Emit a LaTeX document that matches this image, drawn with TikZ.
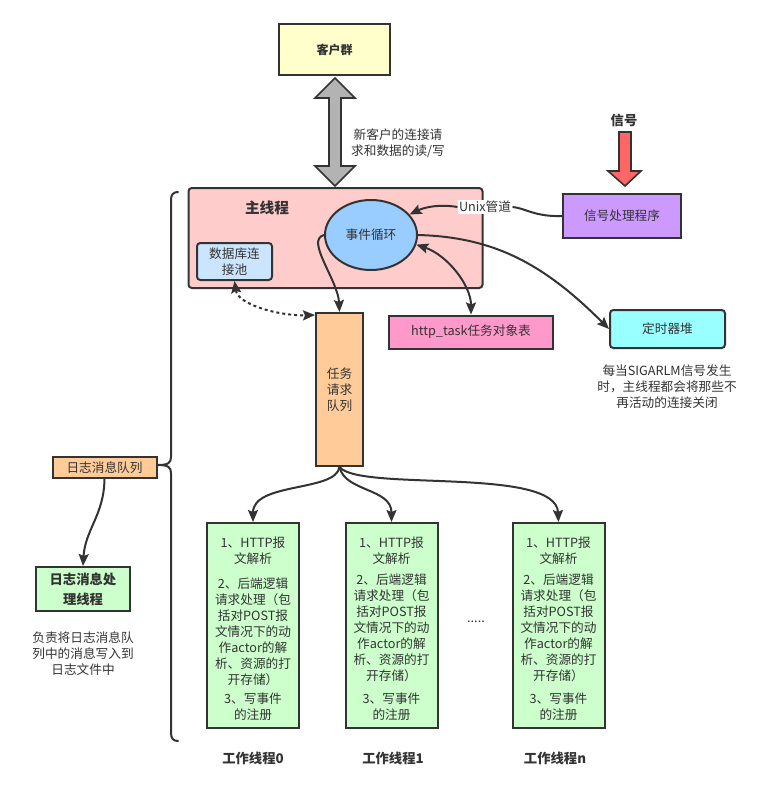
\documentclass[tikz,border=0pt]{standalone}
\usepackage{fontspec}
\setmainfont{Noto Sans CJK SC}
\usetikzlibrary{shapes.geometric,arrows.meta,calc}
\definecolor{ink}{HTML}{333333}
\definecolor{cyellow}{HTML}{FFFFCC}
\definecolor{cpink}{HTML}{FFCCCC}
\definecolor{cblue}{HTML}{99CCFF}
\definecolor{clblue}{HTML}{CCE5FF}
\definecolor{cpurple}{HTML}{CC99FF}
\definecolor{cmagenta}{HTML}{FF99CC}
\definecolor{ccyan}{HTML}{99FFFF}
\definecolor{corange}{HTML}{FFCC99}
\definecolor{cgreen}{HTML}{CCFFCC}
\definecolor{cgray}{HTML}{B3B3B3}
\definecolor{cred}{HTML}{FF6666}
\tikzset{
  sz/.style 2 args={minimum width=#1*0.75pt, minimum height=#2*0.75pt},
  box/.style={draw=ink, line width=1.5pt, inner sep=0pt, align=center, text=ink, font=\fontsize{9.5pt}{12pt}\selectfont},
  rbox/.style={box, rounded corners=2.5pt},
  txt/.style={text=ink, align=center, inner sep=0pt, font=\fontsize{9.5pt}{12pt}\selectfont},
  btxt/.style={txt, font=\fontsize{10pt}{12pt}\selectfont\bfseries},
  conn/.style={draw=ink, line width=1.5pt},
  arr/.style={conn, -{Stealth[length=9pt,width=7.5pt,inset=1.5pt]}},
  darr/.style={conn, {Stealth[length=9pt,width=7.5pt,inset=1.5pt]}-{Stealth[length=9pt,width=7.5pt,inset=1.5pt]}},
}
\begin{document}
\begin{tikzpicture}[x=0.75pt,y=-0.75pt]
\useasboundingbox[fill=white] (0,0) rectangle (763,800);

% client
\node[box, fill=cyellow, sz={111}{51}, font=\fontsize{9pt}{12pt}\selectfont\bfseries] (client) at (334.5,49.5) {客户群};
% gray double arrow
\draw[draw=ink, line width=1.2pt, fill=cgray, line join=miter]
  (335,78) -- (355,98) -- (341,98) -- (341,166) -- (355,166) -- (335,186)
  -- (315,166) -- (329,166) -- (329,98) -- (315,98) -- cycle;
\node[txt] (rwtext) at (398,143) {新客户的连接请\\求和数据的读/写};

% main thread
\node[rbox, fill=cpink, sz={294}{100}] (main) at (335.5,238) {};
\node[btxt, font=\fontsize{11pt}{13pt}\selectfont\bfseries] (mainlabel) at (267,208) {主线程};
\node[box, ellipse, fill=cblue, sz={92}{70}] (loop) at (371,235) {事件循环};
\node[rbox, fill=clblue, sz={75}{37}] (db) at (234.5,261.5) {数据库连\\接池};

% signal
\node[btxt] (siglabel) at (624,120) {信号};
\draw[draw=ink, line width=1.2pt, fill=cred, line join=miter]
  (619,132) -- (631,132) -- (631,171) -- (641,171) -- (625,186) -- (608,171) -- (619,171) -- cycle;
\node[box, fill=cpurple, sz={118}{44}] (sigh) at (622,216) {信号处理程序};

% other boxes
\node[box, fill=cmagenta, sz={164}{33}] (http) at (471,332) {http\_task任务对象表};
\node[rbox, fill=ccyan, sz={115}{38}] (timer) at (667.5,329) {定时器堆};
\node[txt] (timertext) at (667,387) {每当SIGARLM信号发生\\时，主线程都会将那些不\\再活动的连接关闭};
\node[box, fill=corange, sz={47}{153}] (queue) at (339.5,389.5) {任务\\请求\\队列};

% log
\node[box, fill=corange, sz={104}{21}] (logq) at (104.5,467.5) {日志消息队列};
\node[box, fill=cgreen, sz={94}{44}, font=\fontsize{10pt}{15pt}\selectfont\bfseries] (logp) at (83,589) {日志消息处\\理线程};
\node[txt] (logtext) at (83,654) {负责将日志消息队\\列中的消息写入到\\日志文件中};

% brace
\draw[conn, line cap=round] (178,192) .. controls (173,192) and (171,195) .. (171,200) -- (171,457)
  .. controls (171,463) and (168,465) .. (158,465)
  .. controls (168,465) and (171,467) .. (171,473) -- (171,733)
  .. controls (171,738) and (173,741) .. (178,741);

% workers
\foreach \n/\x/\g in {w0/253/632, w1/391.5/628, wn/558.5/628}{
  \node[box, fill=cgreen, sz={92}{205}] (\n) at (\x,625.5) {};
  \node[txt] (\n a) at (\x,551) {1、HTTP报\\文解析};
  \node[txt] (\n b) at (\x,\g) {2、后端逻辑\\请求处理（包\\括对POST报\\文情况下的动\\作actor的解\\析、资源的打\\开存储）};
  \node[txt] (\n c) at (\x,707) {3、写事件\\的注册};
}
\node[btxt] (l0) at (253,758) {工作线程0};
\node[btxt] (l1) at (393,758) {工作线程1};
\node[btxt] (ln) at (555,758) {工作线程n};
\node[txt] (dots) at (476,622) {.....};

% connectors
\node[txt, fill=white, inner sep=1pt] (pipe) at (485,207) {Unix管道};
\draw[conn] (sigh.west) .. controls (535,217) and (525,208) .. (pipe.east);
\draw[arr] (pipe.west) .. controls (440,204) and (425,207) .. (loop.28);
\draw[arr] (loop.west) .. controls (305,240) and (338,280) .. (queue.north);
\draw[darr] (loop.-12) .. controls (447,255) and (471,285) .. (http.north);
\draw[arr] (loop.east) .. controls (495,237) and (545,265) .. (timer.west);
\draw[darr, dash pattern=on 2.25pt off 2.25pt] (db.south) .. controls (238,305) and (280,316) .. ($(queue.north west)+(0,3)$);
\draw[arr] (queue.south) .. controls (336,492) and (253,482) .. (w0.north);
\draw[arr] (queue.south) .. controls (345,492) and (391.5,488) .. (w1.north);
\draw[arr] (queue.south) .. controls (360,492) and (556,466) .. (wn.north);
\draw[arr] (logq.south) .. controls (104,515) and (85,530) .. (logp.north);
\end{tikzpicture}
\end{document}
